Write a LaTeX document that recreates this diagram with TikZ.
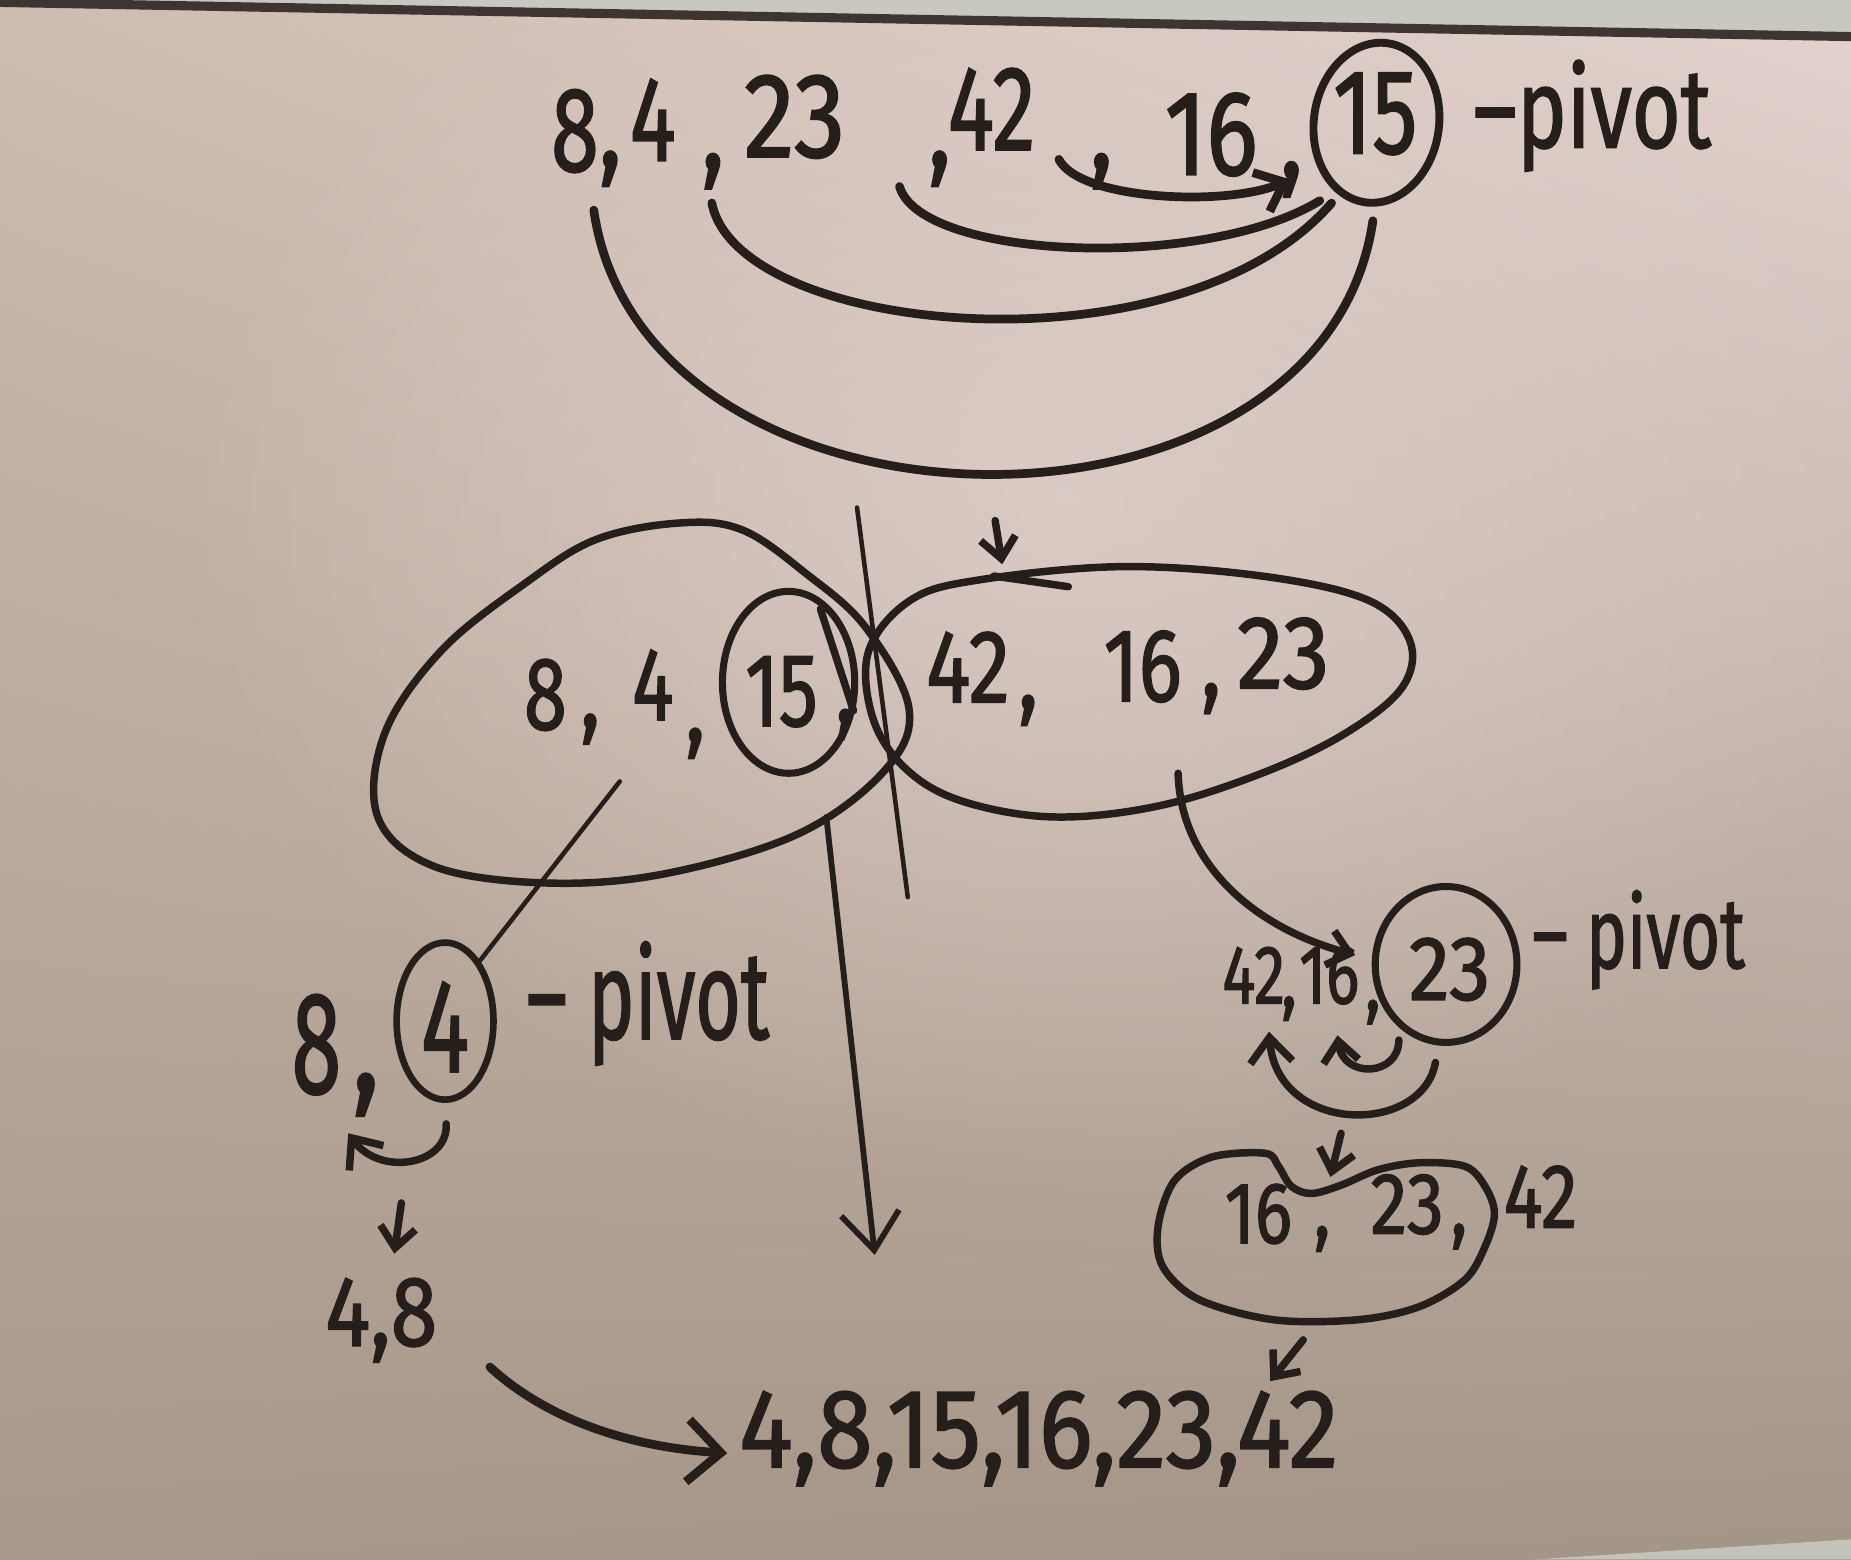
\documentclass[tikz,border=0pt]{standalone}
\usepackage{fontspec}
\usepackage{graphicx}
\setmainfont{Fira Sans}[FakeBold=1.6]
\usetikzlibrary{arrows.meta,shapes.geometric,fadings,shadings}
\definecolor{ink}{RGB}{38,30,27}
\definecolor{bgUL}{RGB}{206,187,177}
\definecolor{bgUR}{RGB}{226,211,206}
\definecolor{bgLL}{RGB}{168,152,138}
\definecolor{bgLR}{RGB}{163,148,136}
\definecolor{bgGlow}{RGB}{224,210,205}
\definecolor{frameC}{RGB}{200,200,192}
\definecolor{frameLine}{RGB}{62,52,50}
\newcommand\hwsize[1]{\fontsize{#1}{#1}\selectfont}
\newcommand\sx[2]{\scalebox{#1}[1]{#2}}
\tikzfading[name=glowfade, inner color=transparent!0, outer color=transparent!100]
\begin{document}
\begin{tikzpicture}[x={(0.01cm,0)},y={(0,-0.01cm)},
  pen/.style={draw=ink,line width=2.1pt,line cap=round,line join=round},
  midpen/.style={draw=ink,line width=1.8pt,line cap=round,line join=round},
  thinpen/.style={draw=ink,line width=1.1pt,line cap=round,line join=round},
  hw/.style={inner sep=0pt,outer sep=0pt,text=ink,anchor=base},
  hwl/.style={inner sep=0pt,outer sep=0pt,text=ink,anchor=base west},
  ring/.style={ellipse,draw=ink,line width=1.7pt,inner sep=0pt},
  barb/.style={-{Straight Barb[length=#1,width=1.7*#1]}},
  barb/.default=7pt]
% ---------- background ----------
\useasboundingbox (0,0) rectangle (1568,1321);
\shade[upper left=bgUL,upper right=bgUR,lower left=bgLL,lower right=bgLR] (0,0) rectangle (1568,1321);
\fill[bgGlow,path fading=glowfade,fill opacity=0.7] (150,-150) rectangle (1650,1000);
\fill[frameC] (0,0) -- (1568,0) -- (1568,30) -- (0,2) -- cycle;
\draw[frameLine,line width=2.2pt] (0,2) -- (1568,31);
\fill[frameC!90!bgLR] (1300,1321) -- (1568,1304) -- (1568,1321) -- cycle;

% ---------- top row ----------
\begin{scope}[every node/.append style={font=\hwsize{29}}]
\node[hw] (t8) at (487,145) {\sx{0.72}{8}};
\node[hw] (tc1) at (517,141) {\sx{0.8}{,}};
\node[hw] (t4) at (553,136) {\sx{0.72}{4}};
\node[hw] (tc2) at (604,143) {\sx{0.8}{,}};
\node[hw] (t23) at (673,133) {\sx{0.85}{23}};
\node[hw] (tc3) at (796,141) {\sx{0.8}{,}};
\node[hw] (t42) at (840,127) {\sx{0.72}{42}};
\node[hw] (tc4) at (933,143) {\sx{0.8}{,}};
\node[hw] (t16) at (1026,148) {\sx{0.8}{16}};
\node[hw] (tc5) at (1094,150) {\sx{0.8}{,}};
\node[hw] (t15) at (1165,130) {\sx{0.75}{15}};
\end{scope}
\node[ring,minimum width=1.06cm,minimum height=1.36cm,line width=1.9pt,rotate=-8] (c15) at (1166,104) {};
\node[hwl,font=\hwsize{27}] (tpivot) at (1248,125) {\sx{0.75}{–pivot}};

% swap arcs to the pivot
\coordinate (aA) at (897,135);  \coordinate (aAe) at (1093,152);
\coordinate (aB) at (762,158);  \coordinate (aBe) at (1118,170);
\coordinate (aC) at (603,172);  \coordinate (aCe) at (1128,172);
\coordinate (aD) at (503,178);  \coordinate (aDe) at (1163,187);
\draw[pen,barb=6pt] (aA) .. controls (915,170) and (1040,175) .. (aAe);
\draw[pen] (aB) .. controls (780,220) and (1020,230) .. (aBe);
\draw[pen] (aC) .. controls (625,285) and (1000,320) .. (aCe);
\draw[pen] (aD) .. controls (545,470) and (1120,480) .. (aDe);

% ---------- middle partition ----------
\coordinate (vtop) at (726,430); \coordinate (vbot) at (769,760);
\draw[thinpen] (vtop) -- (vbot);
\draw[midpen] plot[smooth cycle,tension=0.6] coordinates {(576,443) (629,449) (683,486) (733,531) (770,600) (750,652) (677,706) (564,740) (463,748) (368,734) (320,692) (326,621) (374,551) (445,494) (505,457)};
\draw[midpen] plot[smooth cycle,tension=0.6] coordinates {(736,551) (772,508) (831,491) (950,480) (1069,488) (1158,508) (1194,542) (1188,582) (1140,621) (1069,655) (980,683) (891,692) (813,678) (766,650) (739,607)};
\draw[midpen] (842,488) -- (905,497);
\coordinate (sa) at (843,441); \coordinate (sae) at (849,478);
\draw[midpen,barb=5pt] (sa) -- (sae);

\begin{scope}[every node/.append style={font=\hwsize{25}}]
\node[hw] (m8) at (462,618) {\sx{0.75}{8}};
\node[hw] (mc1) at (500,616) {\sx{0.8}{,}};
\node[hw] (m4) at (553,610) {\sx{0.75}{4}};
\node[hw] (mc2) at (589,628) {\sx{0.8}{,}};
\node[hw] (m15) at (662,615) {\sx{0.75}{15}};
\node[hw] (mc3) at (716,612) {\sx{0.8}{,}};
\node[hw] (r42) at (820,595) {\sx{0.8}{42}};
\node[hw] (rc1) at (871,600) {\sx{0.8}{,}};
\node[hw] (r16) at (968,594) {\sx{0.78}{16}};
\node[hw] (rc2) at (1026,590) {\sx{0.8}{,}};
\node[hw] (r23) at (1087,583) {\sx{0.9}{23}};
\end{scope}
\node[ring,minimum width=1.12cm,minimum height=1.54cm] (c15m) at (668,578) {};
\coordinate (xs) at (695,516); \coordinate (xe) at (723,602);
\draw[midpen] (xs) -- (xe);

% ---------- left branch ----------
\coordinate (lstart) at (525,662);
\node[ring,minimum width=0.82cm,minimum height=1.33cm,line width=1.6pt] (c4) at (377,865) {};
\draw[thinpen] (lstart) -- (c4.60);
\begin{scope}[every node/.append style={font=\hwsize{35}}]
\node[hw] (b8) at (268,926) {\sx{0.62}{8}};
\node[hw] (bc) at (310,925) {\sx{0.8}{,}};
\node[hw,font=\hwsize{32}] (b4) at (377,908) {\sx{0.68}{4}};
\end{scope}
\node[hwl,font=\hwsize{30}] (bpivot) at (446,880) {\sx{0.63}{– pivot}};
\coordinate (ls1) at (378,952); \coordinate (ls2) at (295,960);
\draw[midpen,barb=6pt] (ls1) .. controls (380,987) and (322,997) .. (ls2);
\coordinate (ld1) at (340,1019); \coordinate (ld2) at (334,1062);
\draw[midpen,barb=5pt] (ld1) -- (ld2);
\node[hw,font=\hwsize{24}] (s48) at (323,1140) {\sx{0.85}{4,8}};

% ---------- long arrow down the middle ----------
\coordinate (la1) at (700,692); \coordinate (la2) at (741,1063);
\draw[thinpen,line width=1.4pt,-{Straight Barb[length=9pt,width=14pt]}] (la1) -- (la2);

% ---------- right branch ----------
\coordinate (rstart) at (998,655); \coordinate (rend) at (1148,809);
\draw[midpen,barb=5pt] (rstart) .. controls (1000,730) and (1060,785) .. (rend);
\begin{scope}[every node/.append style={font=\hwsize{20}}]
\node[hw] (q42) at (1062,850) {\sx{0.75}{42}};
\node[hw] (qc1) at (1092,853) {\sx{0.8}{,}};
\node[hw] (q16) at (1126,850) {\sx{0.75}{16}};
\node[hw] (qc2) at (1163,856) {\sx{0.8}{,}};
\node[hw,font=\hwsize{22}] (q23) at (1228,847) {\sx{0.9}{23}};
\end{scope}
\node[ring,minimum width=1.2cm,minimum height=1.32cm] (c23) at (1225,817) {};
\node[hwl,font=\hwsize{24}] (qpivot) at (1298,820) {\sx{0.69}{– pivot}};
\coordinate (u1) at (1185,881); \coordinate (u2) at (1133,877);
\draw[midpen,barb=5pt] (u1) .. controls (1185,912) and (1138,914) .. (u2);
\coordinate (w1) at (1216,900); \coordinate (w2) at (1075,874);
\draw[midpen,barb=6pt] (w1) .. controls (1205,962) and (1082,962) .. (w2);
\coordinate (rd1) at (1136,960); \coordinate (rd2) at (1127,997);
\draw[midpen,barb=5pt] (rd1) -- (rd2);
\draw[midpen] plot[smooth cycle,tension=0.55] coordinates {(981,1039) (995,1000) (1027,980) (1072,977) (1083,988) (1094,1005) (1111,1011) (1136,1004) (1167,991) (1202,985) (1241,988) (1258,1005) (1266,1028) (1258,1056) (1241,1084) (1202,1107) (1150,1118) (1079,1118) (1016,1101) (985,1073)};
\begin{scope}[every node/.append style={font=\hwsize{21}}]
\node[hw] (k16) at (1066,1053) {\sx{0.8}{16}};
\node[hw] (kc1) at (1120,1048) {\sx{0.8}{,}};
\node[hw] (k23) at (1192,1045) {\sx{0.85}{23}};
\node[hw] (kc2) at (1236,1046) {\sx{0.8}{,}};
\node[hw,font=\hwsize{22}] (k42) at (1305,1040) {\sx{0.8}{42}};
\end{scope}
\coordinate (dg1) at (1104,1135); \coordinate (dg2) at (1076,1170);
\draw[midpen,barb=5pt] (dg1) -- (dg2);

% ---------- result ----------
\node[hw,font=\hwsize{27}] (result) at (880,1243) {\sx{0.9}{4,8,15,16,23,42}};
\coordinate (fa1) at (415,1158); \coordinate (fa2) at (616,1231);
\draw[pen,-{Straight Barb[length=8pt,width=15pt]}] (fa1) .. controls (455,1195) and (520,1225) .. (fa2);
\end{tikzpicture}
\end{document}
